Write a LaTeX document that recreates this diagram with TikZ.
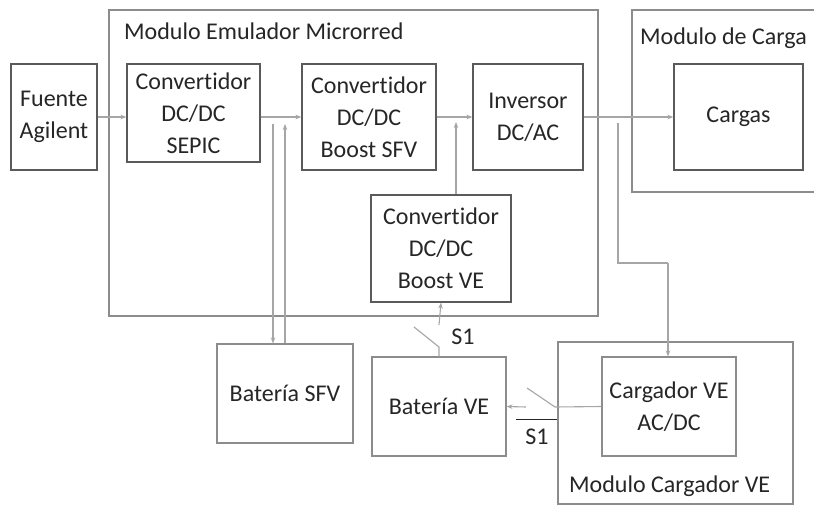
\documentclass[tikz,border=0pt]{standalone}
\usepackage{fontspec}
\setmainfont{Carlito}[Ligatures=NoCommon]
\usetikzlibrary{arrows.meta}
\definecolor{txt}{HTML}{262626}
\definecolor{bx}{HTML}{5A5A5A}
\definecolor{outer}{HTML}{8C8C8C}
\definecolor{wire}{HTML}{A6A6A6}
\begin{document}
\begin{tikzpicture}[x=1pt,y=-1pt,
  blk/.style={draw=bx,line width=1.2pt,align=center,text=txt,inner sep=0pt,
    font=\fontsize{24}{32}\selectfont},
  mod/.style={draw=outer,line width=1.8pt},
  modlbl/.style={text=txt,font=\fontsize{24}{28}\selectfont,inner sep=0pt},
  wr/.style={draw=wire,line width=1.1pt},
  arr/.style={wr,-{Stealth[length=6pt,width=4.5pt]}},
  swl/.style={text=txt,font=\fontsize{24}{28}\selectfont,inner sep=0pt}]
\useasboundingbox (0,0) rectangle (814,506);
\fill[white] (0,0) rectangle (814,506);
% modules
\draw[mod] (109,10) rectangle (598,316);
\draw[mod] (632,10) rectangle (830,192);
\draw[mod] (558,342) rectangle (793,504);
\node[modlbl,anchor=west] (tEmu) at (124,31) {Modulo Emulador Microrred};
\node[modlbl,anchor=west] (tCar) at (640,38) {Modulo de Carga};
\node[modlbl,anchor=west] (tCve) at (569,486) {Modulo Cargador VE};
% blocks
\node[blk,minimum width=86pt,minimum height=106pt] (fuente) at (54,117) {Fuente\\Agilent};
\node[blk,minimum width=133pt,minimum height=98pt] (sepic) at (193.5,113) {Convertidor\\DC/DC\\SEPIC};
\node[blk,minimum width=134pt,minimum height=106pt] (bsfv) at (369,117) {Convertidor\\DC/DC\\Boost SFV};
\node[blk,minimum width=110pt,minimum height=106pt] (inv) at (528,117) {Inversor\\DC/AC};
\node[blk,minimum width=129pt,minimum height=106pt] (cargas) at (738.5,117) {Cargas};
\node[blk,minimum width=140pt,minimum height=107pt] (bve) at (441,248.5) {Convertidor\\DC/DC\\Boost VE};
\node[blk,draw=outer,line width=1.1pt,minimum width=136pt,minimum height=99pt] (batsfv) at (285,393.5) {Batería SFV};
\node[blk,draw=outer,line width=1.1pt,minimum width=134pt,minimum height=99pt] (batve) at (439,406.5) {Batería VE};
\node[blk,draw=outer,line width=1.1pt,minimum width=134pt,minimum height=99pt] (cargador) at (669,406.5) {Cargador VE\\AC/DC};
% main bus
\draw[arr] (fuente.east |- 0,117) -- (sepic.west |- 0,117);
\draw[arr] (sepic.east |- 0,117) -- (bsfv.west |- 0,117);
\draw[arr] (bsfv.east |- 0,117) -- (inv.west |- 0,117);
\draw[arr] (inv.east |- 0,117) -- (cargas.west |- 0,117);
% battery SFV
\coordinate (d1) at (273,124);
\coordinate (u1) at (285,124);
\draw[arr] (d1) -- (d1 |- batsfv.north);
\draw[arr] (batsfv.north) -- (u1);
% boost VE up
\coordinate (u2) at (456,122);
\draw[arr] (bve.north -| u2) -- (u2);
% to charger
\coordinate (c1) at (618,123);
\coordinate (c2) at (618,263);
\coordinate (c3) at (668,263);
\draw[wr] (c1) -- (c2) -- (c3);
\draw[arr] (c3) -- (c3 |- cargador.north);
% switch S1 (battery VE to boost VE)
\coordinate (s1a) at (439,347);
\coordinate (s1b) at (414,327);
\coordinate (s1c) at (439,325);
\draw[wr] (batve.north) -- (s1a) -- (s1b);
\draw[arr] (s1c) -- (bve.south);
\node[swl] (lS1) at (463,337) {S1};
% switch S1bar (charger to battery VE)
\coordinate (s2a) at (555,407);
\coordinate (s2b) at (527,388);
\coordinate (s2c) at (526,407);
\draw[wr] (cargador.west) -- (s2a) -- (s2b);
\draw[arr] (s2c) -- (batve.east);
\node[swl] (lS2) at (537,437) {S1};
\coordinate (ob1) at (516,419);
\coordinate (ob2) at (557,419);
\draw[draw=txt,line width=1pt] (ob1) -- (ob2);
\end{tikzpicture}
\end{document}
